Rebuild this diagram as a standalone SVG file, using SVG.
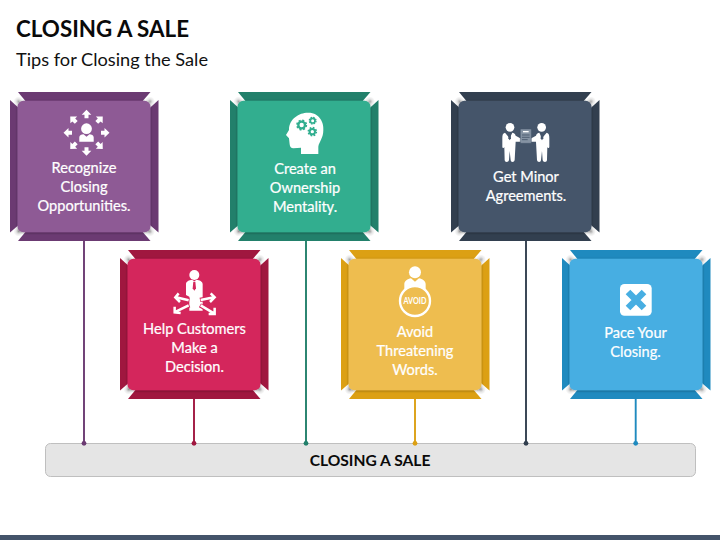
<svg xmlns="http://www.w3.org/2000/svg" width="720" height="540" viewBox="0 0 720 540">
<style>
text{font-family:Lato,"Liberation Sans",sans-serif}
.lbl{fill:#fff;stroke:#fff;stroke-width:.22px;font-size:14.6px;text-anchor:middle}
.c1{fill:#8e5a95}.f1{fill:#6b3a72;stroke:#6b3a72}
.c2{fill:#d4255b}.f2{fill:#a0173f;stroke:#a0173f}
.c3{fill:#31ae8f}.f3{fill:#22806b;stroke:#22806b}
.c4{fill:#eebd50}.f4{fill:#dca014;stroke:#dca014}
.c5{fill:#44546a}.f5{fill:#323f4f;stroke:#323f4f}
.c6{fill:#47aee2}.f6{fill:#1f8abf;stroke:#1f8abf}
.w{fill:#fff}
.conn line{stroke-width:1.9}
.conn circle{stroke:none}
</style>
<defs>
<radialGradient id="glint"><stop offset="0" stop-color="#b0b0b0"/><stop offset=".5" stop-color="#e6e6e6"/><stop offset="1" stop-color="#fff"/></radialGradient>
<filter id="sh" x="-10%" y="-10%" width="120%" height="120%"><feDropShadow dx="0" dy="0.6" stdDeviation="1.2" flood-color="#000" flood-opacity=".4"/></filter>
<g id="frame" stroke="none">
<polygon points="8,0 140.5,0 131,11 17,11"/>
<polygon points="8,149 140.5,149 131,138 17,138"/>
<polygon points="0,8 11,18 11,131 0,140.5"/>
<polygon points="148.5,8 137.5,18 137.5,131 148.5,140.5"/>
</g>
<g id="glints">
<circle cx="8.5" cy="9.5" r="5" fill="url(#glint)"/>
<circle cx="140" cy="9.5" r="5" fill="url(#glint)"/>
<circle cx="8.5" cy="139.5" r="5" fill="url(#glint)"/>
<circle cx="140" cy="139.5" r="5" fill="url(#glint)"/>
</g>
<rect id="face" x="7.5" y="8.7" width="133" height="131.6" rx="6" filter="url(#sh)"/>
<path id="arr" d="M0,-23 L4.8,-18 L2,-18 L2,-14.5 L-2,-14.5 L-2,-18 L-4.8,-18 Z" fill="#fff"/>
<path id="man" d="M-14,13 C-21,15 -22,20 -22,30 L-22,55 C-22,60 -17,60 -16,56 L-15,95 C-15,103 -3,103 -2,95 L0,68 L3,95 C3,103 14,103 15,95 L18,40 L34,40 L36,32 L18,22 C16,15 12,14 8,13 L0,30 Z" fill="#fff"/>
</defs>

<rect width="720" height="540" fill="#fff"/>
<text x="16" y="36.5" font-size="23" font-weight="700" fill="#0a0a0a" textLength="173" lengthAdjust="spacingAndGlyphs">CLOSING A SALE</text>
<text x="16" y="65.5" font-size="18" fill="#111" textLength="192" lengthAdjust="spacingAndGlyphs">Tips for Closing the Sale</text>

<g id="bar">
<rect x="45.5" y="443.5" width="650" height="33" rx="5" fill="#e5e5e5" stroke="#bfbfbf"/>
<text x="370" y="466.3" font-size="15.6" font-weight="700" fill="#0a0a0a" text-anchor="middle">CLOSING A SALE</text>
</g>

<g id="connectors" class="conn">
<line x1="84" y1="241" x2="84" y2="443" stroke="#6b3a72"/><circle cx="84" cy="443.3" r="2.4" fill="#6b3a72"/>
<line x1="194" y1="399" x2="194" y2="443" stroke="#a0173f"/><circle cx="194" cy="443.3" r="2.4" fill="#a0173f"/>
<line x1="306" y1="240" x2="306" y2="443" stroke="#22806b"/><circle cx="306" cy="443.3" r="2.4" fill="#22806b"/>
<line x1="415" y1="399" x2="415" y2="443" stroke="#dca014"/><circle cx="415" cy="443.3" r="2.4" fill="#dca014"/>
<line x1="526" y1="241" x2="526" y2="443" stroke="#323f4f"/><circle cx="526" cy="443.3" r="2.4" fill="#323f4f"/>
<line x1="635.7" y1="399" x2="635.7" y2="443" stroke="#1f8abf"/><circle cx="635.7" cy="443.3" r="2.4" fill="#1f8abf"/>
</g>

<g id="node1">
<g transform="translate(10,92)"><use href="#glints"/><use href="#frame" class="f1"/><use href="#face" class="c1"/></g>
<g transform="translate(86.5,132.7)">
<use href="#arr"/><use href="#arr" transform="rotate(45)"/><use href="#arr" transform="rotate(90)"/><use href="#arr" transform="rotate(135)"/><use href="#arr" transform="rotate(180)"/><use href="#arr" transform="rotate(225)"/><use href="#arr" transform="rotate(270)"/><use href="#arr" transform="rotate(315)"/>
<circle cy="-4" r="5.4" class="w"/>
<path d="M-7.2,9 L-7.2,4.5 C-7.2,2.5 -5,1.8 -3,1.5 L0,4 L3,1.5 C5,1.8 7.2,2.5 7.2,4.5 L7.2,9 Z" class="w"/>
</g>
<text class="lbl" x="84" y="172.7">Recognize</text><text class="lbl" x="84" y="191.7">Closing</text><text class="lbl" x="84" y="210.5">Opportunities.</text>
</g>

<g id="node2">
<g transform="translate(120,250)"><use href="#glints"/><use href="#frame" class="f2"/><use href="#face" class="c2"/></g>
<g transform="translate(110,240) scale(.3333)">
<circle cx="253" cy="105" r="15" class="w"/>
<path d="M228,132 C228,124 238,120 246,119 L253,124 L260,119 C268,120 278,124 278,132 L278,212 L238,212 L238,170 L228,165 Z" class="w"/>
<path d="M250,125 L256,125 L258,145 L253,152 L248,145 Z" class="c2"/>
<g fill="none" stroke="#d4255b" stroke-width="13"><path d="M238,180 L196,172"/><path d="M238,196 L196,216"/><path d="M270,180 L312,172"/><path d="M270,196 L312,220"/></g>
<g fill="none" stroke="#fff" stroke-width="7.5"><path d="M236,181 L198,172 M206,160 L196,172 L210,186"/><path d="M236,196 L196,216 M194,200 L194,217 L212,219"/><path d="M272,180 L312,172 M302,160 L314,172 L300,186"/><path d="M272,196 L312,220 M314,203 L314,222 L296,222"/></g>
</g>
<text class="lbl" x="194.5" y="334">Help Customers</text><text class="lbl" x="194.5" y="352.7">Make a</text><text class="lbl" x="194.5" y="371.7">Decision.</text>
</g>

<g id="node3">
<g transform="translate(230,92)"><use href="#glints"/><use href="#frame" class="f3"/><use href="#face" class="c3"/></g>
<g transform="translate(225,85) scale(.3333)">
<path d="M228,207 L228,188 L205,190 Q195,190 194,178 L192,160 L183,150 L192,135 C192,100 225,82 250,83 C285,83 297,115 295,135 C295,160 282,170 280,185 L280,207 Z" class="w"/>
<g fill="none" stroke="#31ae8f">
<circle cx="230" cy="120" r="10" stroke-width="7"/><circle cx="230" cy="120" r="14" stroke-width="5" stroke-dasharray="6 5"/>
<circle cx="263" cy="107" r="7" stroke-width="5"/><circle cx="263" cy="107" r="10" stroke-width="4" stroke-dasharray="4.5 3.4"/>
<circle cx="262" cy="140" r="8" stroke-width="6"/><circle cx="262" cy="140" r="12" stroke-width="5" stroke-dasharray="5 4.4"/>
</g>
</g>
<text class="lbl" x="305" y="173.7">Create an</text><text class="lbl" x="305" y="192.7">Ownership</text><text class="lbl" x="305" y="211.5">Mentality.</text>
</g>

<g id="node4">
<g transform="translate(341,250)"><use href="#glints"/><use href="#frame" class="f4"/><use href="#face" class="c4"/></g>
<g transform="translate(335,245) scale(.3333)">
<circle cx="240" cy="82" r="18" class="w"/>
<path d="M208,135 L208,118 C208,108 218,102 228,100 L240,110 L252,100 C262,102 272,108 272,118 L272,135 Z" class="w"/>
<circle cx="240" cy="168" r="45" fill="#eebd50" stroke="#fff" stroke-width="7"/>
</g>
<text x="415" y="304" font-size="9.5" font-weight="700" fill="#fff" text-anchor="middle" textLength="23" lengthAdjust="spacingAndGlyphs">AVOID</text>
<text class="lbl" x="415" y="337">Avoid</text><text class="lbl" x="415" y="355.7">Threatening</text><text class="lbl" x="415" y="374.7">Words.</text>
</g>

<g id="node5">
<g transform="translate(451,92)"><use href="#glints"/><use href="#frame" class="f5"/><use href="#face" class="c5"/></g>
<g transform="translate(445,85) scale(.3333)">
<circle cx="195" cy="127" r="13" class="w"/><circle cx="290" cy="127" r="13" class="w"/>
<use href="#man" transform="translate(194,130)"/>
<use href="#man" transform="translate(291,130) scale(-1,1)"/>
<path d="M191,144 L197,144 L198,160 L194,166 L190,160 Z" class="c5"/>
<path d="M288,144 L294,144 L295,160 L291,166 L287,160 Z" class="c5"/>
<rect x="226" y="132" width="33" height="43" rx="2" fill="#8593a3" stroke="#44546a" stroke-width="1.5"/>
<path d="M234,140 H251" stroke="#fff" stroke-width="4"/>
<path d="M231,150 H254 M231,157 H254 M231,164 H248" stroke="#44546a" stroke-width="2.5"/>
</g>
<text class="lbl" x="526" y="181.7">Get Minor</text><text class="lbl" x="526" y="200.7">Agreements.</text>
</g>

<g id="node6">
<g transform="translate(562,250)"><use href="#glints"/><use href="#frame" class="f6"/><use href="#face" class="c6"/></g>
<rect x="620" y="284" width="31.7" height="31.7" rx="4.5" class="w"/>
<path d="M628,292 L644,308 M644,292 L628,308" stroke="#47aee2" stroke-width="6.5"/>
<text class="lbl" x="635.5" y="338">Pace Your</text><text class="lbl" x="635.5" y="356.7">Closing.</text>
</g>

<rect id="band" x="0" y="535" width="720" height="5" fill="#44546a"/>
</svg>
